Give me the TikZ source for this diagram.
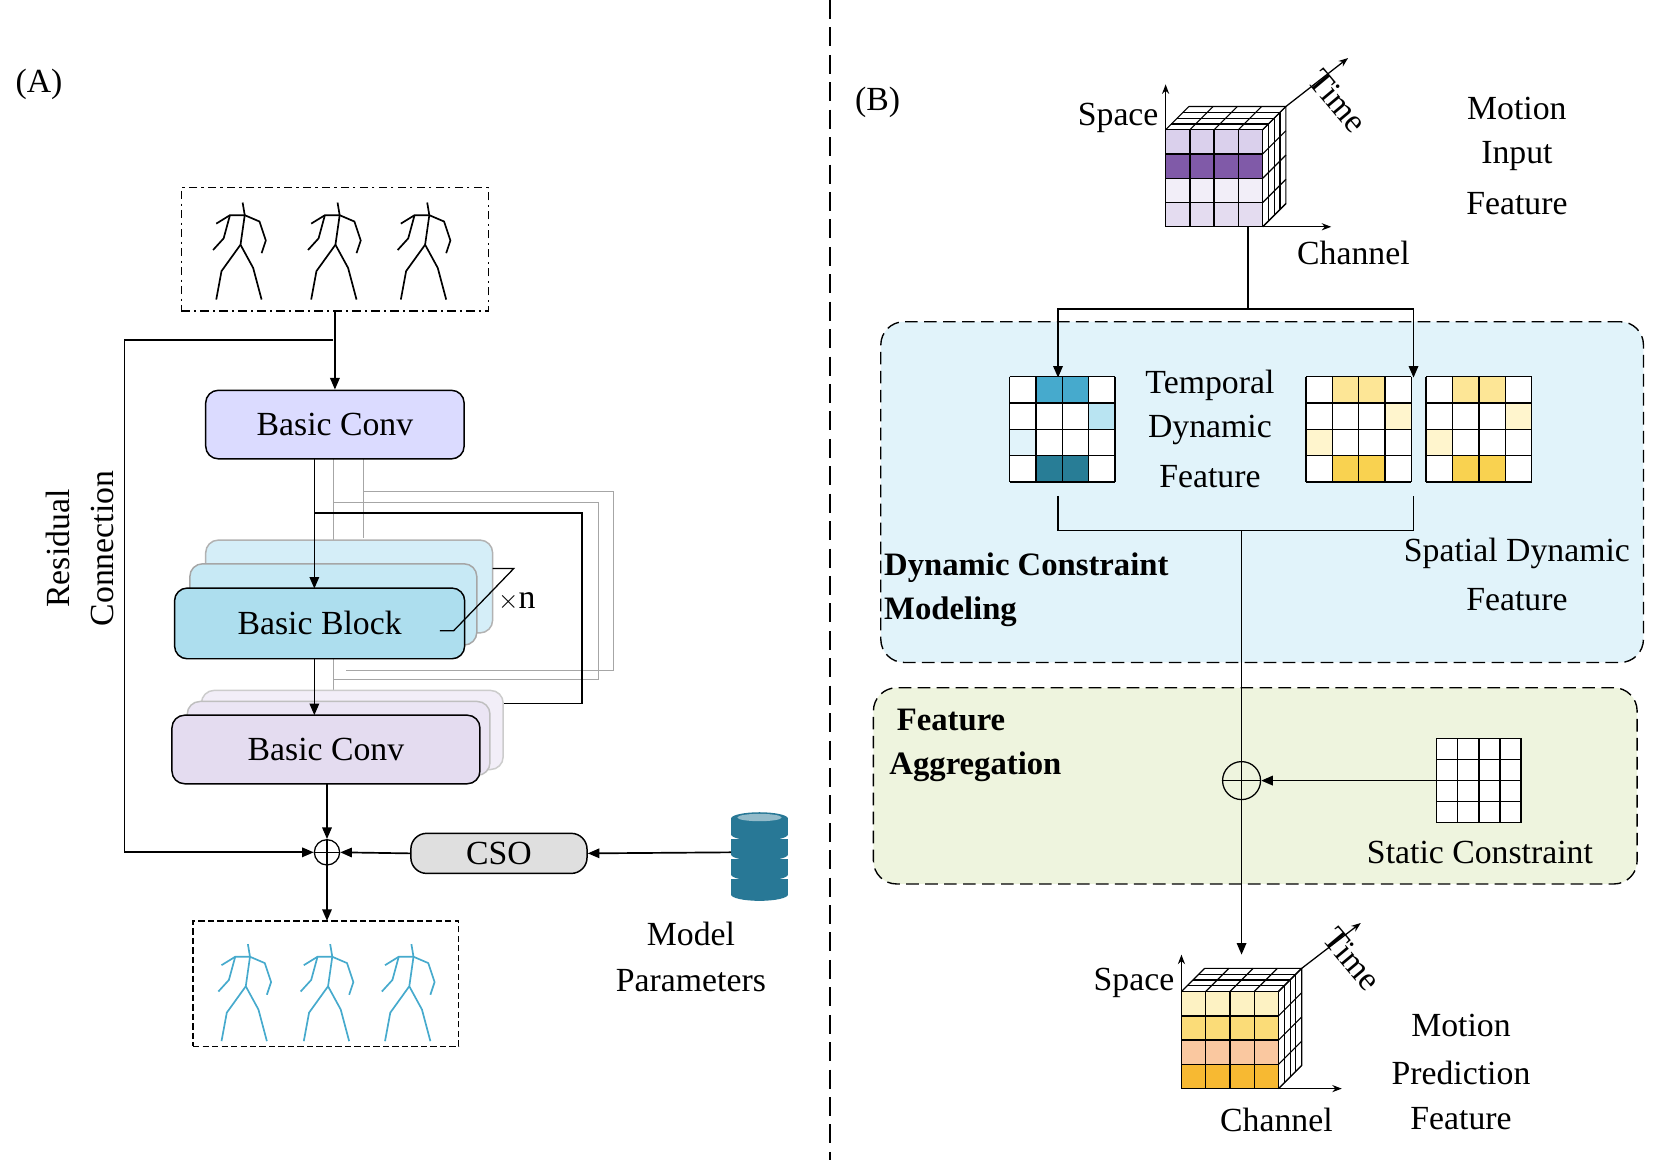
\documentclass[tikz,border=0pt]{standalone}
\usepackage{fontspec}
\setmainfont{Liberation Serif}
\usetikzlibrary{arrows.meta}
\definecolor{pl}{RGB}{218,208,236}
\definecolor{pd}{RGB}{128,90,168}
\definecolor{pvl}{RGB}{242,238,248}
\definecolor{pm}{RGB}{228,220,240}
\definecolor{tb1}{RGB}{70,170,205}
\definecolor{tb2}{RGB}{185,228,242}
\definecolor{tb3}{RGB}{225,243,250}
\definecolor{tb4}{RGB}{40,125,150}
\definecolor{y1}{RGB}{253,230,150}
\definecolor{y2}{RGB}{255,245,205}
\definecolor{y3}{RGB}{249,210,80}
\definecolor{dbc}{RGB}{40,120,150}
\definecolor{c1}{RGB}{253,242,195}
\definecolor{c2}{RGB}{251,220,120}
\definecolor{c3}{RGB}{250,200,160}
\definecolor{c4}{RGB}{247,185,50}
\begin{document}
\begin{tikzpicture}[x=1pt,y=-1pt,
 lbl/.style={font=\fontsize{32}{32}\selectfont,inner sep=0pt},
 blbl/.style={font=\fontsize{31}{31}\selectfont\bfseries,inner sep=0pt,anchor=west},
 arr/.style={-{Triangle[length=11pt,width=9pt]},line width=1.6pt},
 sarr/.style={-{Stealth[length=9pt]},line width=1.2pt},
 ln/.style={line width=1.6pt},
 gl/.style={line width=1pt,draw=gray!70},
 box/.style={draw,line width=1.4pt,rounded corners=12pt},
 grp/.style={draw,dash pattern=on 12pt off 6pt,line width=1.3pt,rounded corners=22pt}]
\useasboundingbox (0,0) rectangle (1568,1100);
\fill[white] (0,0) rectangle (1568,1100);
\newcommand{\stickfig}[3]{\begin{scope}[shift={(#1,#2)},draw=#3,line width=1.6pt]
 \draw (30,0)--(32,12)--(28,40)--(10,65)--(5,92);
 \draw (28,40)--(40,62)--(48,92);
 \draw (5,20)--(18,12)--(32,12)--(46,18)--(52,36)--(48,48);
 \draw (18,12)--(12,34)--(2,45);
 \end{scope}}
\newcommand{\gridlines}[3]{%
 \foreach \k in {0,...,#2}{\draw[line width=1.3pt] (\k*#3,0)--(\k*#3,#1); \draw[line width=1.3pt] (0,\k*#3)--(#1,\k*#3);}}
\newcommand{\cubeat}[6]{\begin{scope}[shift={(#1,#2)}]
 \foreach \r/\c in {0/#3,1/#4,2/#5,3/#6}{\foreach \k in {0,1,2,3}{
  \fill[\c] (\k*23,\r*23) rectangle ++(23,23);}}
 \fill[white] (0,0)--(22,-22)--(114,-22)--(114,70)--(92,92)--(92,0)--cycle;
 \gridlines{92}{4}{23}
 \foreach \k in {0,...,4}{\draw[line width=1.1pt] (\k*23,0)--++(22,-22);
   \draw[line width=1.1pt] (92,\k*23)--++(22,-22);}
 \foreach \k in {1,2,3}{\draw[line width=1.1pt] (\k*22/4,-\k*22/4)--++(92,0);
   \draw[line width=1.1pt] (92+\k*22/4,-\k*22/4)--++(0,92);}
 \draw[line width=1.1pt] (22,-22)--(114,-22)--(114,70)--(92,92);
 \end{scope}}
% divider
\draw[dash pattern=on 18pt off 8pt,line width=1.3pt] (787,0)--(787,1100);
\node[lbl] (A) at (37,80) {(A)};
\node[lbl] (B) at (832,97) {(B)};
% ---------- Panel A
\node[draw,dash pattern=on 8pt off 4pt on 2pt off 4pt,line width=1.3pt,minimum width=291pt,minimum height=117pt] (inbox) at (317.5,236.5) {};
\stickfig{200}{192}{black}\stickfig{290}{192}{black}\stickfig{375}{192}{black}
\node[draw,dash pattern=on 6pt off 3pt,line width=1.2pt,minimum width=252pt,minimum height=119pt] (outbox) at (309,932.5) {};
\stickfig{205}{895}{tb1}\stickfig{283}{895}{tb1}\stickfig{360}{895}{tb1}
% gray feedback lines
\draw[gl] (316,435)--(316,655); \draw[gl] (345,435)--(345,510);
\draw[gl] (316,476)--(567,476)--(567,644)--(316,644);
\draw[gl] (345,466)--(582,466)--(582,636)--(328,636);
% black loop
\draw[ln] (299,486)--(552,486)--(552,667)--(305,667);
% boxes
\node[box,fill=tb3!70!tb2,draw=gray!60,minimum width=272pt,minimum height=88pt] (bb3) at (331,556) {};
\node[box,fill=tb2!80!white,draw=gray!70,minimum width=272pt,minimum height=77pt] (bb2) at (316,573) {};
\node[box,fill=tb2!90!tb1,minimum width=275pt,minimum height=67pt,lbl] (bb) at (303,591) {Basic Block};
\node[box,fill=pvl,draw=gray!40,minimum width=286pt,minimum height=75pt] (bc3) at (334,692) {};
\node[box,fill=pvl!50!pm,draw=gray!50,minimum width=287pt,minimum height=70pt] (bc2) at (321,700) {};
\node[box,fill=pm,minimum width=292pt,minimum height=65pt,lbl] (bc2f) at (309,710.5) {Basic Conv};
\node[box,fill=blue!14!white,minimum width=245pt,minimum height=65pt,lbl] (bc1) at (317.5,402.5) {Basic Conv};
\draw[arr] (inbox.south) -- (bc1.north);
\draw[arr] (298,435) -- (298,558);
\draw[arr] (298,625) -- (298,678);
\draw[line width=1.2pt] (417,598)--(430,598)--(487,539)--(467,539);
\node[lbl,anchor=west] (xn) at (472,570) {$\times$n};
% sum
\node[draw,circle,line width=1.2pt,minimum size=24pt,inner sep=0pt] (sum) at (310,808) {};
\draw[line width=1.2pt] (sum.north)--(sum.south) (sum.west)--(sum.east);
\draw[arr] (310,743) -- (sum.north);
\draw[arr] (316,322) -- (118,322) -- (118,808) -- (sum.west);
\node[lbl,rotate=90] (res) at (55,520) {Residual};
\node[lbl,rotate=90] (con) at (97,520) {Connection};
\node[draw,line width=1.4pt,rounded corners=15pt,fill=gray!25,minimum width=167pt,minimum height=38pt,lbl] (cso) at (473,809) {CSO};
\draw[arr] (cso.west) -- (sum.east);
% database
\begin{scope}[shift={(720,770)}]
 \foreach \k in {0,1,2,3}{\fill[dbc] (-27,\k*19+6) rectangle (27,\k*19+21);
  \fill[dbc] (0,\k*19+21) ellipse (27pt and 6pt);}
 \fill[dbc] (0,6) ellipse (27pt and 6pt);
 \fill[dbc!50!white] (0,5) ellipse (21pt and 3.5pt);
\end{scope}
\coordinate (db) at (693,808);
\draw[arr] (db) -- (cso.east);
\draw[arr] (sum.south) -- (310,873);
\node[lbl] (mp1) at (655,885) {Model};
\node[lbl] (mp2) at (655,930) {Parameters};
% ---------- Panel B
\node[grp,fill=tb3,minimum width=723pt,minimum height=323pt] (dyn) at (1196.5,466.5) {};
\node[grp,fill={rgb,255:red,238;green,244;blue,222},minimum width=724pt,minimum height=186pt] (agg) at (1190,745) {};
\cubeat{1105}{123}{pl}{pd}{pvl}{pm}
\draw[sarr] (1105,123)--(1105,80);
\draw[sarr] (1219,101)--(1278,55);
\draw[sarr] (1197,215)--(1262,215);
\node[lbl] (sp1) at (1060,112) {Space};
\node[lbl,rotate=-50] (t1) at (1268,96) {Time};
\node[lbl] (ch1) at (1283,240) {Channel};
\node[lbl] (mi1) at (1438,103) {Motion};
\node[lbl] (mi2) at (1438,148) {Input};
\node[lbl] (mi3) at (1438,193) {Feature};
\draw[ln] (1183,215)--(1183,293);
\draw[arr] (1183,293)-|(1003,358);
\draw[arr] (1183,293)-|(1340,358);
% grids
\begin{scope}[shift={(957,357)}]
 \fill[white](0,0) rectangle (100,100);
 \fill[tb1] (25,0) rectangle (75,25);
 \fill[tb2] (75,25) rectangle (100,50);
 \fill[tb3] (0,50) rectangle (25,75);
 \fill[tb4] (25,75) rectangle (75,100);
 \gridlines{100}{4}{25}
\end{scope}
\foreach \gx in {1238,1352}{\begin{scope}[shift={(\gx,357)}]
 \fill[white](0,0) rectangle (100,100);
 \fill[y1] (25,0) rectangle (75,25);
 \fill[y2] (75,25) rectangle (100,50);
 \fill[y2] (0,50) rectangle (25,75);
 \fill[y3] (25,75) rectangle (75,100);
 \gridlines{100}{4}{25}
\end{scope}}
\node[lbl] (td1) at (1147,365) {Temporal};
\node[lbl] (td2) at (1147,408) {Dynamic};
\node[lbl] (td3) at (1147,452) {Feature};
\draw[ln] (1003,470)--(1003,503)--(1340,503)--(1340,470);
\node[blbl] (dc1) at (838,538) {Dynamic Constraint};
\node[blbl] (dc2) at (838,580) {Modeling};
\node[lbl] (sd1) at (1438,525) {Spatial Dynamic};
\node[lbl] (sd2) at (1438,568) {Feature};
\node[blbl] (fa1) at (850,683) {Feature};
\node[blbl] (fa2) at (843,727) {Aggregation};
\node[draw,circle,line width=1.2pt,minimum size=36pt,inner sep=0pt] (sum2) at (1177,740) {};
\draw[line width=1.2pt] (sum2.north)--(sum2.south) (sum2.west)--(sum2.east);
\draw[ln] (1177,503)--(sum2.north);
\begin{scope}[shift={(1362,700)}]
 \fill[white] (0,0) rectangle (80,80);
 \foreach \k in {0,...,4}{\draw[line width=1.2pt] (\k*20,0)--(\k*20,80); \draw[line width=1.2pt] (0,\k*20)--(80,\k*20);}
\end{scope}
\coordinate (sc) at (1362,740);
\draw[arr] (sc) -- (sum2.east);
\node[lbl] (stc) at (1403,808) {Static Constraint};
\draw[arr] (sum2.south) -- (1177,905);
\cubeat{1120}{940}{c1}{c2}{c3}{c4}
\draw[sarr] (1120,940)--(1120,905);
\draw[sarr] (1234,918)--(1290,875);
\draw[sarr] (1212,1032)--(1272,1032);
\node[lbl] (sp2) at (1075,932) {Space};
\node[lbl,rotate=-50] (t2) at (1282,909) {Time};
\node[lbl] (ch2) at (1210,1062) {Channel};
\node[lbl] (mo1) at (1385,972) {Motion};
\node[lbl] (mo2) at (1385,1017) {Prediction};
\node[lbl] (mo3) at (1385,1060) {Feature};
\end{tikzpicture}
\end{document}
